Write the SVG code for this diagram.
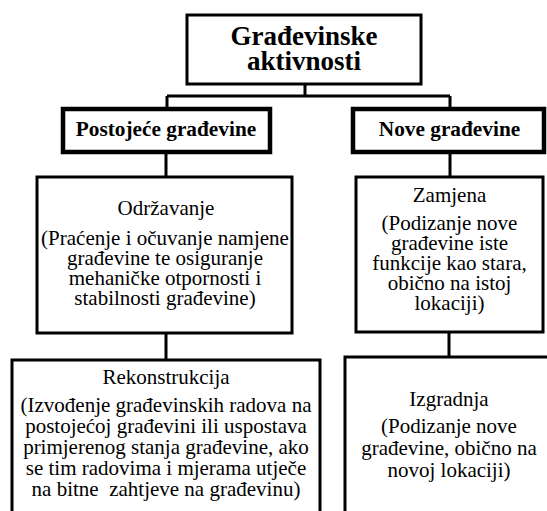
<svg xmlns="http://www.w3.org/2000/svg" width="547" height="511" viewBox="0 0 547 511">
<style>
.box{fill:#fff;stroke:#000;stroke-width:3}
.thick{stroke-width:4.5}
.conn{stroke:#000;stroke-width:3;fill:none}
text{fill:#000;text-anchor:middle}
.b{font-weight:bold}
.t{font-size:27px}
.h{font-size:21.3px}
.n{font-size:21px}
</style>
<rect width="547" height="511" fill="#fff"/>
<g id="connectors">
<path class="conn" d="M305 84V96M167 96H450M167 96V109M450 96V109M166 152V177M450 152V177M166 333V360M449 332V357"/>
</g>
<g font-family="'Liberation Serif', 'Times New Roman', 'DejaVu Serif', serif">
<g id="gradjevinske-aktivnosti">
<rect class="box" x="187" y="15" width="234" height="69"/>
<text class="b t" x="304" y="45">Građevinske</text>
<text class="b t" x="304" y="70">aktivnosti</text>
</g>
<g id="postojece">
<rect class="box thick" x="63" y="109" width="207" height="43"/>
<text class="b h" x="166" y="136">Postojeće građevine</text>
</g>
<g id="nove">
<rect class="box thick" x="353" y="109" width="191" height="43"/>
<text class="b h" x="449.5" y="136">Nove građevine</text>
</g>
<g id="odrzavanje">
<rect class="box" x="37" y="177" width="255" height="156"/>
<text class="n" x="166" y="215">Održavanje</text>
<text class="n" x="165" y="245">(Praćenje i očuvanje namjene</text>
<text class="n" x="165" y="265">građevine te osiguranje</text>
<text class="n" x="165" y="285">mehaničke otpornosti i</text>
<text class="n" x="165" y="305">stabilnosti građevine)</text>
</g>
<g id="zamjena">
<rect class="box" x="356" y="177" width="187" height="155"/>
<text class="n" x="449.5" y="202">Zamjena</text>
<text class="n" x="449.5" y="230">(Podizanje nove</text>
<text class="n" x="449.5" y="250">građevine iste</text>
<text class="n" x="449.5" y="270">funkcije kao stara,</text>
<text class="n" x="449.5" y="290">obično na istoj</text>
<text class="n" x="449.5" y="310">lokaciji)</text>
</g>
<g id="rekonstrukcija">
<rect class="box" x="12" y="360" width="308" height="160"/>
<text class="n" x="166" y="384">Rekonstrukcija</text>
<text class="n" x="166" y="412">(Izvođenje građevinskih radova na</text>
<text class="n" x="166" y="433">postojećoj građevini ili uspostava</text>
<text class="n" x="166" y="454">primjerenog stanja građevine, ako</text>
<text class="n" x="166" y="475">se tim radovima i mjerama utječe</text>
<text class="n" x="166" y="496" xml:space="preserve">na bitne  zahtjeve na građevinu)</text>
</g>
<g id="izgradnja">
<rect class="box" x="345" y="357" width="210" height="165"/>
<text class="n" x="449" y="406">Izgradnja</text>
<text class="n" x="449" y="433">(Podizanje nove</text>
<text class="n" x="449" y="455">građevine, obično na</text>
<text class="n" x="449" y="477">novoj lokaciji)</text>
</g>
</g>
</svg>
